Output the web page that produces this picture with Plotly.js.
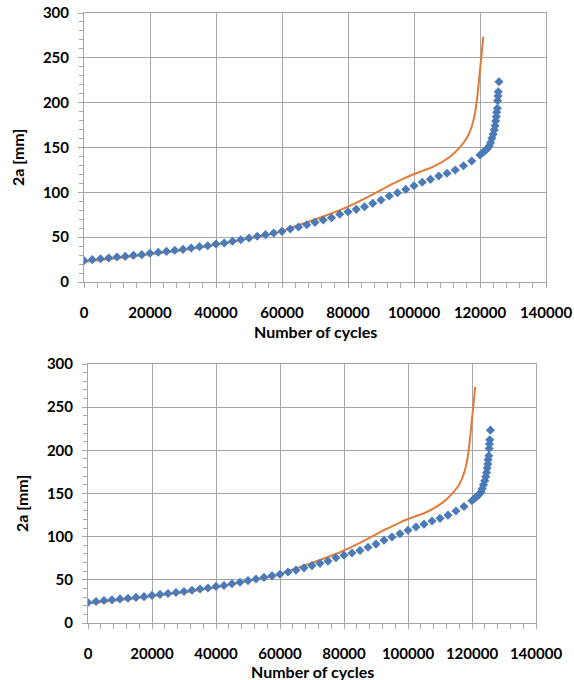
<!DOCTYPE html>
<html>
<head>
<meta charset="utf-8">
<script src="https://cdn.plot.ly/plotly-3.0.1.min.js"></script>
<style>
  html, body { margin: 0; padding: 0; background: #fff; }
  #chart { width: 574px; height: 680px; }
</style>
</head>
<body>
<div id="chart"></div>
<script>
// Measured crack length 2a versus number of load cycles (diamond markers)
const measuredCycles = [
  0, 2500, 5000, 7500, 10000, 12500, 15000, 17500, 20000, 22500,
  25000, 27500, 30000, 32500, 35000, 37500, 40000, 42500, 45000, 47500,
  50000, 52500, 55000, 57500, 60000, 62500, 65000, 67500, 70000, 72500,
  75000, 77500, 80000, 82500, 85000, 87500, 90000, 92500, 95000, 97500,
  100000, 102500, 105000, 107500, 110000, 112500, 115000, 117500, 120000, 120800,
  121500, 122200, 122800, 123200, 123600, 124000, 124300, 124550, 124750, 124950,
  125050, 125250, 125350, 125450, 125550, 125750
];
const measuredCrack = [
  23.8, 24.9, 26.0, 26.8, 27.9, 28.6, 29.7, 30.5, 32.0, 33.1,
  34.2, 35.3, 36.4, 37.9, 39.4, 40.5, 42.4, 43.5, 45.4, 47.2,
  49.1, 51.0, 52.8, 54.6, 56.5, 59.1, 61.3, 63.9, 66.5, 69.1,
  71.7, 75.5, 78.4, 81.0, 84.0, 87.7, 91.4, 95.9, 99.6, 103.3,
  107.4, 111.2, 114.5, 118.2, 121.2, 124.9, 129.7, 134.9, 141.6, 144.2,
  146.4, 148.7, 151.7, 155.4, 160.2, 164.7, 169.5, 174.3, 179.6, 184.3,
  189.2, 193.7, 202.2, 207.4, 212.2, 223.4
];

// Predicted crack growth curve (solid line)
const predictedCycles = [
  0, 10000, 20000, 30000, 40000, 50000, 60000, 62400, 67500, 72500,
  80000, 87700, 92700, 97000, 100000, 103000, 105850, 110900, 113940, 115970,
  117480, 118480, 119180, 119790, 120510, 121000
];
const predictedCrack = [
  22.5, 26.5, 31.0, 35.5, 41.5, 48.5, 56.5, 60.0, 66.5, 73.0,
  84.0, 98.0, 108.0, 115.5, 120.4, 124.5, 128.6, 139.7, 150.5, 160.2,
  173.2, 188.1, 206.7, 229.0, 255.0, 273.6
];

const xTickVals = [0, 20000, 40000, 60000, 80000, 100000, 120000, 140000];
const yTickVals = [0, 50, 100, 150, 200, 250, 300];

const FONT = 'Lato, "Open Sans", sans-serif';
const GRID = '#a6a6a6';

function traces(xa, ya) {
  return [
    {
      x: predictedCycles, y: predictedCrack, xaxis: xa, yaxis: ya,
      type: 'scatter', mode: 'lines',
      line: { color: '#e07b39', width: 2, shape: 'spline', smoothing: 0.8 },
      hoverinfo: 'x+y', showlegend: false
    },
    {
      x: measuredCycles, y: measuredCrack, xaxis: xa, yaxis: ya,
      type: 'scatter', mode: 'markers',
      marker: { symbol: 'diamond', size: 7, color: '#4a7ab8', line: { width: 0 } },
      hoverinfo: 'x+y', showlegend: false
    }
  ];
}

function xAxis(domain, anchor) {
  return {
    domain: domain, anchor: anchor, range: [0, 140000],
    tickmode: 'array', tickvals: xTickVals, ticktext: xTickVals.map(String),
    showgrid: true, gridcolor: GRID, gridwidth: 1,
    showline: true, linecolor: GRID, linewidth: 1, mirror: true,
    zeroline: false,
    ticks: 'outside', ticklen: 5, tickcolor: GRID,
    minor: { dtick: 4000, tick0: 0, ticks: 'outside', ticklen: 5, tickcolor: GRID, showgrid: false },
    ticklabelstandoff: 12,
    tickfont: { family: FONT, size: 15, color: '#000', weight: 'bold' },
    automargin: false, fixedrange: true
  };
}

function yAxis(domain, anchor) {
  return {
    domain: domain, anchor: anchor, range: [0, 300],
    tickmode: 'array', tickvals: yTickVals, ticktext: yTickVals.map(String),
    showgrid: true, gridcolor: GRID, gridwidth: 1,
    showline: true, linecolor: GRID, linewidth: 1, mirror: true,
    zeroline: false,
    ticks: 'outside', ticklen: 5, tickcolor: GRID,
    minor: { dtick: 10, tick0: 0, ticks: 'outside', ticklen: 4, tickcolor: GRID, showgrid: false },
    ticklabelstandoff: 6,
    tickfont: { family: FONT, size: 15, color: '#000', weight: 'bold' },
    automargin: false, fixedrange: true
  };
}

const W = 574, H = 680;
const px = (v) => v / W;
const py = (v) => 1 - v / H;

const titleFont = { family: FONT, size: 16, color: '#000', weight: 'bold' };

const layout = {
  width: W, height: H,
  margin: { l: 0, r: 0, t: 0, b: 0 },
  paper_bgcolor: '#fff', plot_bgcolor: '#fff',
  showlegend: false,
  xaxis: xAxis([px(84), px(546)], 'y'),
  yaxis: yAxis([py(282), py(13)], 'x'),
  xaxis2: xAxis([px(88), px(536)], 'y2'),
  yaxis2: yAxis([py(623), py(364)], 'x2'),
  annotations: [
    { text: 'Number of cycles', xref: 'paper', yref: 'paper', x: px(315), y: py(331),
      xanchor: 'center', yanchor: 'middle', showarrow: false, font: titleFont },
    { text: '2a [mm]', xref: 'paper', yref: 'paper', x: px(17), y: py(158), textangle: -90,
      xanchor: 'center', yanchor: 'middle', showarrow: false, font: titleFont },
    { text: 'Number of cycles', xref: 'paper', yref: 'paper', x: px(312), y: py(671),
      xanchor: 'center', yanchor: 'middle', showarrow: false, font: titleFont },
    { text: '2a [mm]', xref: 'paper', yref: 'paper', x: px(21), y: py(504), textangle: -90,
      xanchor: 'center', yanchor: 'middle', showarrow: false, font: titleFont }
  ]
};

Plotly.newPlot('chart', [...traces('x', 'y'), ...traces('x2', 'y2')], layout,
  { staticPlot: true, displayModeBar: false });
</script>
</body>
</html>
